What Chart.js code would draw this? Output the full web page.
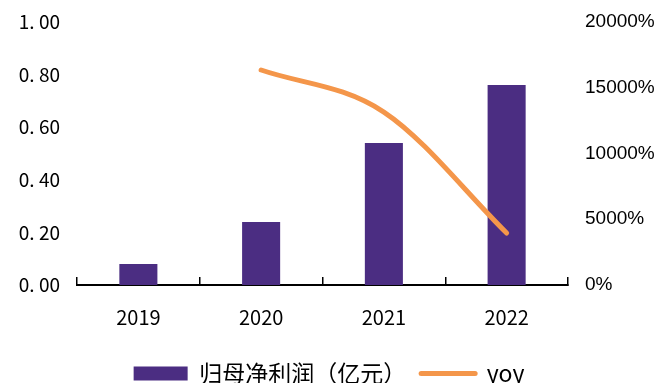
<!DOCTYPE html>
<html>
<head>
<meta charset="utf-8">
<script src="https://cdn.jsdelivr.net/npm/chart.js@4/dist/chart.umd.min.js"></script>
<style>
  html, body { margin: 0; padding: 0; background: #fff; }
  #wrap { width: 658px; height: 383px; }
</style>
</head>
<body>
<div id="wrap"><canvas id="chart"></canvas></div>
<script>
const years = ["2019", "2020", "2021", "2022"];
const netProfit = [0.08, 0.24, 0.54, 0.76];
const yoyPct = [null, 16350, 13150, 3950];
const leftTicks = [0, 0.2, 0.4, 0.6, 0.8, 1.0];
const rightTicks = [0, 5000, 10000, 15000, 20000];

const barColor = "#4b2d82";
const lineColor = "#f4964a";

// y scales: fixed width, no extra label padding above/below the plot
const fitY = (w) => (s) => {
  s.width = w;
  s.paddingTop = 0;
  s.paddingBottom = 0;
};

new Chart(document.getElementById("chart").getContext("2d"), {
  data: {
    labels: years,
    datasets: [
      {
        type: "bar",
        label: "归母净利润（亿元）",
        yAxisID: "y",
        data: netProfit,
        backgroundColor: barColor,
        borderWidth: 0,
        categoryPercentage: 1,
        barPercentage: 0.31,
        order: 2,
      },
      {
        type: "line",
        label: "yoy",
        yAxisID: "y1",
        data: yoyPct,
        borderColor: lineColor,
        backgroundColor: lineColor,
        borderWidth: 5,
        borderCapStyle: "round",
        pointRadius: 0,
        cubicInterpolationMode: "monotone",
        order: 1,
      },
    ],
  },
  options: {
    responsive: true,
    maintainAspectRatio: false,
    animation: false,
    layout: { padding: { top: 22, bottom: -12, left: 0, right: 0 } },
    scales: {
      x: {
        offset: true,
        grid: { offset: true, drawOnChartArea: false, color: "#000", lineWidth: 1.5, tickLength: -8 },
        border: { color: "#000", width: 2 },
        ticks: { color: "#000", padding: 28, font: { family: "Noto Sans CJK SC", size: 20 } },
        afterFit: (s) => { s.height = 62; },
      },
      y: {
        position: "left",
        min: 0,
        max: 1,
        afterBuildTicks: (s) => { s.ticks = leftTicks.map((v) => ({ value: v })); },
        grid: { display: false, drawTicks: false },
        border: { display: false },
        ticks: {
          color: "#000",
          padding: 17,
          font: { family: "Noto Sans CJK SC", size: 19 },
          callback: (v) => v.toFixed(2).replace(".", ". "),
        },
        afterFit: fitY(77),
      },
      y1: {
        position: "right",
        min: 0,
        max: 20000,
        afterBuildTicks: (s) => { s.ticks = rightTicks.map((v) => ({ value: v })); },
        grid: { display: false, drawTicks: false },
        border: { display: false },
        ticks: {
          color: "#000",
          padding: 17,
          font: { family: "Liberation Sans", size: 19 },
          callback: (v) => v + "%",
        },
        afterFit: fitY(90),
      },
    },
    plugins: {
      legend: {
        position: "bottom",
        labels: {
          color: "#000",
          usePointStyle: true,
          pointStyleWidth: 54,
          boxHeight: 14,
          padding: 15,
          font: { family: "Noto Sans CJK SC", size: 23 },
          generateLabels: (chart) =>
            chart.data.datasets.map((ds, i) => ({
              text: ds.label,
              fillStyle: ds.type === "bar" ? barColor : lineColor,
              strokeStyle: ds.type === "bar" ? barColor : lineColor,
              lineWidth: ds.type === "bar" ? 0 : 5,
              lineCap: "round",
              pointStyle: ds.type === "bar" ? "rect" : "line",
              fontColor: "#000",
              datasetIndex: i,
              hidden: false,
            })),
        },
      },
      tooltip: { enabled: false },
    },
  },
});
</script>
</body>
</html>
